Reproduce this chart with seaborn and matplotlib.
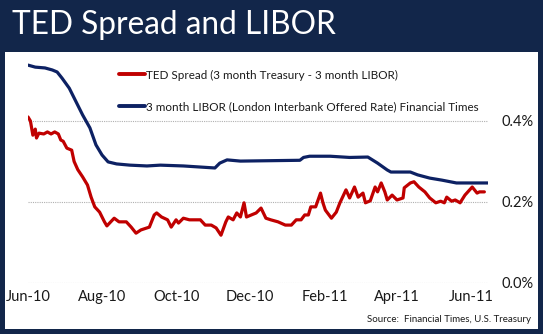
import matplotlib
matplotlib.use("Agg")
import matplotlib.pyplot as plt
import matplotlib.dates as mdates
from matplotlib.patches import Rectangle
from matplotlib.ticker import FuncFormatter
from matplotlib.lines import Line2D
import seaborn as sns
import pandas as pd

# ---- data (percent) ----
ted_dates = [
    "2010-06-01", "2010-06-03", "2010-06-05", "2010-06-07", "2010-06-08", "2010-06-10",
    "2010-06-14", "2010-06-17", "2010-06-20", "2010-06-23", "2010-06-26", "2010-06-28",
    "2010-06-30", "2010-07-03", "2010-07-07", "2010-07-09", "2010-07-12", "2010-07-16",
    "2010-07-20", "2010-07-23", "2010-07-26", "2010-07-30", "2010-08-03", "2010-08-05",
    "2010-08-11", "2010-08-15", "2010-08-21", "2010-08-25", "2010-08-29", "2010-09-02",
    "2010-09-07", "2010-09-09", "2010-09-13", "2010-09-15", "2010-09-19", "2010-09-24",
    "2010-09-27", "2010-10-01", "2010-10-03", "2010-10-07", "2010-10-12", "2010-10-21",
    "2010-10-25", "2010-10-30", "2010-11-03", "2010-11-07", "2010-11-11", "2010-11-13",
    "2010-11-17", "2010-11-20", "2010-11-23", "2010-11-26", "2010-11-28", "2010-12-02",
    "2010-12-06", "2010-12-10", "2010-12-14", "2010-12-18", "2010-12-24", "2010-12-30",
    "2011-01-04", "2011-01-08", "2011-01-12", "2011-01-15", "2011-01-18", "2011-01-20",
    "2011-01-24", "2011-01-28", "2011-01-30", "2011-02-01", "2011-02-06", "2011-02-10",
    "2011-02-13", "2011-02-18", "2011-02-21", "2011-02-25", "2011-02-28", "2011-03-04",
    "2011-03-06", "2011-03-10", "2011-03-14", "2011-03-16", "2011-03-19", "2011-03-22",
    "2011-03-24", "2011-03-28", "2011-04-01", "2011-04-06", "2011-04-07", "2011-04-12",
    "2011-04-15", "2011-04-19", "2011-04-24", "2011-04-28", "2011-05-03", "2011-05-07",
    "2011-05-10", "2011-05-12", "2011-05-16", "2011-05-19", "2011-05-23", "2011-05-27",
    "2011-06-02", "2011-06-06", "2011-06-08", "2011-06-12",
]
ted_values = [
    0.410, 0.400, 0.365, 0.380, 0.358, 0.370,
    0.368, 0.373, 0.368, 0.373, 0.368, 0.353,
    0.350, 0.333, 0.328, 0.300, 0.280, 0.262,
    0.242, 0.212, 0.188, 0.175, 0.151, 0.141,
    0.160, 0.151, 0.151, 0.138, 0.123, 0.131,
    0.136, 0.138, 0.168, 0.173, 0.163, 0.156,
    0.138, 0.156, 0.148, 0.160, 0.156, 0.156,
    0.143, 0.143, 0.136, 0.118, 0.151, 0.163,
    0.156, 0.173, 0.163, 0.198, 0.163, 0.168,
    0.173, 0.185, 0.160, 0.156, 0.151, 0.143,
    0.143, 0.156, 0.156, 0.168, 0.168, 0.188,
    0.188, 0.222, 0.198, 0.180, 0.160, 0.175,
    0.198, 0.230, 0.210, 0.237, 0.212, 0.222,
    0.198, 0.203, 0.237, 0.225, 0.247, 0.225,
    0.205, 0.217, 0.205, 0.210, 0.235, 0.247,
    0.250, 0.237, 0.225, 0.210, 0.198, 0.202,
    0.198, 0.212, 0.202, 0.205, 0.198, 0.217,
    0.237, 0.222, 0.225, 0.225,
]

libor_dates = [
    "2010-06-01", "2010-06-07", "2010-06-15", "2010-06-21", "2010-06-25", "2010-06-29",
    "2010-07-05", "2010-07-09", "2010-07-16", "2010-07-22", "2010-07-27", "2010-08-01",
    "2010-08-06", "2010-08-13", "2010-08-24", "2010-09-07", "2010-09-18", "2010-10-07",
    "2010-11-02", "2010-11-06", "2010-11-12", "2010-11-23", "2011-01-11", "2011-01-14",
    "2011-01-19", "2011-02-05", "2011-02-21", "2011-03-08", "2011-03-16", "2011-03-24",
    "2011-03-27", "2011-04-12", "2011-04-18", "2011-04-28", "2011-05-08", "2011-05-20",
    "2011-06-15",
]
libor_values = [
    0.538, 0.533, 0.531, 0.526, 0.521, 0.506,
    0.481, 0.457, 0.415, 0.383, 0.341, 0.316,
    0.299, 0.294, 0.291, 0.289, 0.291, 0.289,
    0.284, 0.296, 0.304, 0.301, 0.303, 0.310,
    0.313, 0.313, 0.310, 0.311, 0.296, 0.279,
    0.274, 0.274, 0.267, 0.259, 0.254, 0.247,
    0.247,
]

ted_label = "TED Spread (3 month Treasury - 3 month LIBOR)"
libor_label = "3 month LIBOR (London Interbank Offered Rate) Financial Times"
title_text = "TED Spread and LIBOR"
source_text = "Source:  Financial Times, U.S. Treasury"
y_ticks = [0.0, 0.2, 0.4]
x_tick_dates = ["2010-06-01", "2010-08-01", "2010-10-01", "2010-12-01",
                "2011-02-01", "2011-04-01", "2011-06-01"]

# ---- build long table ----
df = pd.concat([
    pd.DataFrame({"date": pd.to_datetime(ted_dates), "value": ted_values, "series": ted_label}),
    pd.DataFrame({"date": pd.to_datetime(libor_dates), "value": libor_values, "series": libor_label}),
], ignore_index=True)

sns.set_theme(style="white")
plt.rcParams["font.family"] = ["Lato", "DejaVu Sans"]

NAVY = "#12264a"
RED = "#c00000"
BLUE = "#0d2163"

W, H = 543, 334
fig = plt.figure(figsize=(W / 100, H / 100), dpi=100, facecolor=NAVY)

# white panel
fig.patches.append(Rectangle((5 / W, 5 / H), (538 - 5) / W, (H - 52 - 5) / H,
                             transform=fig.transFigure, facecolor="white",
                             edgecolor="none", zorder=-5))

x_left, x_right = 28, 488
y_zero = 283
px_per_unit = 405
ymax = 0.55
ax = fig.add_axes([x_left / W, (H - y_zero) / H, (x_right - x_left) / W,
                   ymax * px_per_unit / H])
ax.set_zorder(2)
ax.set_facecolor("none")

sns.lineplot(data=df, x="date", y="value", hue="series",
             palette={ted_label: RED, libor_label: BLUE},
             hue_order=[ted_label, libor_label],
             linewidth=2.3, ax=ax, legend=False, estimator=None)

ax.set_xlim(pd.Timestamp("2010-06-01"), pd.Timestamp("2011-06-15"))
ax.set_ylim(0, ymax)
ax.set_yticks(y_ticks)
ax.yaxis.set_major_formatter(FuncFormatter(lambda v, p: f"{v:.1f}%"))
ax.yaxis.tick_right()
ax.set_xticks(pd.to_datetime(x_tick_dates))
ax.xaxis.set_major_formatter(mdates.DateFormatter("%b-%y"))
ax.tick_params(axis="y", length=0, pad=10, labelsize=10.5, labelcolor="#1a1a1a")
ax.tick_params(axis="x", length=0, pad=5, labelsize=10.5, labelcolor="#1a1a1a")
ax.set_xlabel("")
ax.set_ylabel("")
for s in ax.spines.values():
    s.set_visible(False)
ax.grid(axis="y", color="#b0b0b0", linestyle=(0, (1, 1)), linewidth=0.8)
ax.grid(axis="x", visible=False)

# legend
handles = [Line2D([], [], color=RED, linewidth=2.8),
           Line2D([], [], color=BLUE, linewidth=2.8)]
leg = fig.legend(handles, [ted_label, libor_label], loc="upper left",
                 bbox_to_anchor=(108 / W, 1 - 59 / H), frameon=False,
                 handlelength=2.3, handletextpad=0.1, labelspacing=1.75,
                 fontsize=8.4, labelcolor="#1a1a1a")
leg.set_zorder(3)

fig.text(12 / W, 1 - 34 / H, title_text, color="white", fontsize=22.8,
         ha="left", va="baseline")
fig.text(531 / W, 1 - 322 / H, source_text, color="#1a1a1a", fontsize=7,
         ha="right", va="baseline")

fig.savefig("out.png", dpi=100, facecolor=NAVY)
